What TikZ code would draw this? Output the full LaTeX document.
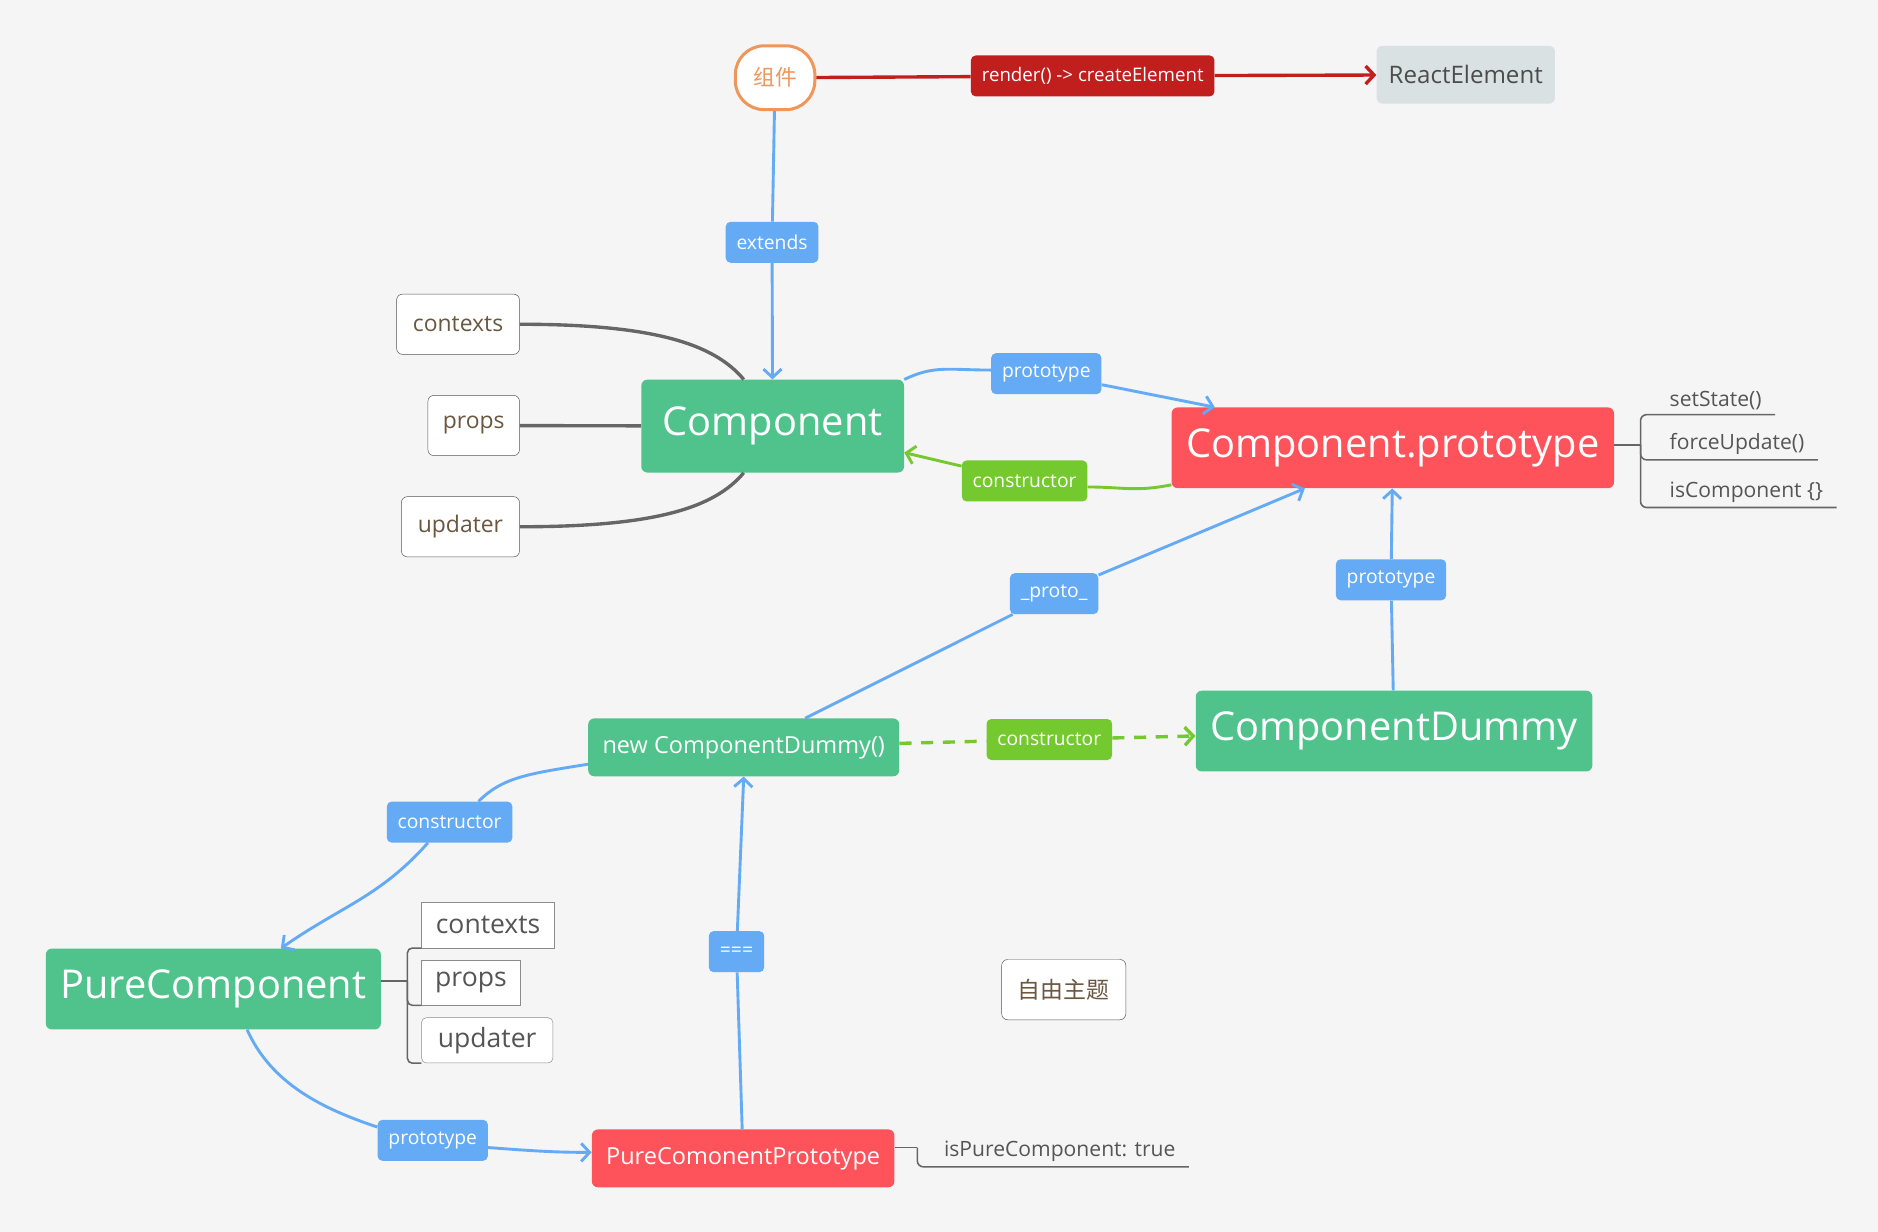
\documentclass[tikz,border=0pt]{standalone}
\usepackage{fontspec}
\setmainfont{Open Sans}
\newfontfamily\cjk{Noto Sans CJK SC}
\usetikzlibrary{arrows.meta}
\definecolor{bgc}{HTML}{F5F5F5}
\definecolor{cgreen}{HTML}{50C38C}
\definecolor{cred}{HTML}{FF535C}
\definecolor{cdark}{HTML}{C11E1E}
\definecolor{cblue}{HTML}{64AAF5}
\definecolor{clime}{HTML}{74C92E}
\definecolor{cgray}{HTML}{DAE1E2}
\definecolor{cbrown}{HTML}{6B5640}
\definecolor{corange}{HTML}{F0965A}
\definecolor{cline}{HTML}{666666}
\definecolor{ctext}{HTML}{555555}
\begin{document}
\begin{tikzpicture}[x=1pt, y=-1pt,
  mainnode/.style={rounded corners=5pt, inner sep=0pt, text=white, font=\fontsize{33}{36}\selectfont},
  midnode/.style={rounded corners=5pt, inner sep=0pt, text=white, font=\fontsize{19.5}{22}\selectfont},
  lbl/.style={rounded corners=4pt, inner xsep=9pt, inner ysep=0pt, minimum height=34pt, text=white, font=\fontsize{16}{18}\selectfont},
  leaf/.style={draw=ctext, fill=white, rounded corners=5pt, inner sep=0pt, minimum height=50pt, text=cbrown, font=\fontsize{19}{22}\selectfont},
  subitem/.style={anchor=south west, inner xsep=11pt, inner ysep=4pt, text=ctext, font=\fontsize{17.5}{20}\selectfont},
  leafbox/.style={anchor=south west, draw=black!45, fill=white, inner sep=0pt, minimum height=37.5pt, text=ctext, font=\fontsize{22}{24}\selectfont},
  tip/.style={-{Straight Barb[length=7pt,width=15pt]}},
  bline/.style={draw=cblue, line width=2.4pt},
  barrow/.style={bline, tip},
  gline/.style={draw=cline, line width=2.8pt},
  brline/.style={draw=cline, line width=1.3pt},
  ]
  \fill[bgc] (0,0) rectangle (1558,1022);
  \useasboundingbox (0,0) rectangle (1558,1022);

  \node[draw=corange, line width=2.5pt, fill=white, rounded corners=24pt, minimum width=66pt, minimum height=53pt, inner sep=0pt, text=corange, font={\cjk\fontsize{18}{20}\selectfont}] (zujian) at (643,64.5) {组件};
  \node[lbl, fill=cdark, font=\fontsize{15.5}{18}\selectfont] (render) at (906.5,63) {render() -> createElement};
  \node[fill=cgray, rounded corners=5pt, minimum width=148pt, minimum height=48pt, inner sep=0pt, text=black!70, font=\fontsize{20}{22}\selectfont] (react) at (1216,62) {ReactElement};
  \node[lbl, fill=cblue] (extends) at (640.5,201) {extends};
  \node[mainnode, fill=cgreen, minimum width=218pt, minimum height=77pt] (comp) at (641,353.5) {Component};
  \node[leaf, minimum width=102pt] (ctx) at (380,269) {contexts};
  \node[leaf, minimum width=76pt] (props) at (393,353) {props};
  \node[leaf, minimum width=98pt] (upd) at (382,437) {updater};
  \node[lbl, fill=cblue] (protoA) at (868,310) {prototype};
  \node[mainnode, fill=cred, minimum width=367pt, minimum height=67pt] (cproto) at (1155.5,371.5) {Component.prototype};
  \node[lbl, fill=clime] (ctorA) at (850,399) {constructor};
  \coordinate (brkA) at (1361,369);
  \node[subitem] (setstate) at (1374,344) {setState()};
  \node[subitem] (forceupd) at (1374,381.5) {forceUpdate()};
  \node[subitem] (iscomp) at (1374,421) {isComponent \{\}};
  \node[lbl, fill=cblue] (protoB) at (874.5,492.5) {\_proto\_};
  \node[lbl, fill=cblue] (protoC) at (1154,481) {prototype};
  \node[mainnode, fill=cgreen, minimum width=329pt, minimum height=67pt] (cdummy) at (1156.5,606.5) {ComponentDummy};
  \node[midnode, fill=cgreen, minimum width=258pt, minimum height=48pt] (newdummy) at (617,620) {new ComponentDummy()};
  \node[lbl, fill=clime] (ctorB) at (870.5,613.5) {constructor};
  \node[lbl, fill=cblue] (ctorC) at (373,682) {constructor};
  \node[mainnode, fill=cgreen, minimum width=278pt, minimum height=67pt] (pcomp) at (177,820.5) {PureComponent};
  \coordinate (brkB) at (338,814);
  \node[leafbox, minimum width=110.5pt] (pctx) at (349.5,786.5) {contexts};
  \node[leafbox, minimum width=82pt] (pprops) at (349.5,834) {props};
  \node[leafbox, minimum width=109pt, rounded corners=4pt] (pupd) at (349.5,882) {updater};
  \node[lbl, fill=cblue, minimum width=46pt] (eq) at (611,789.5) {===};
  \node[leaf, minimum width=103pt, font={\cjk\fontsize{19}{22}\selectfont}] (topic) at (882.5,821) {自由主题};
  \node[lbl, fill=cblue] (protoD) at (359,946) {prototype};
  \node[midnode, fill=cred, minimum width=251pt, minimum height=48pt] (pcproto) at (616.5,961) {PureComonentPrototype};
  \coordinate (brkC) at (761,952);
  \node[subitem] (ispure) at (772,968) {isPureComponent: true};

  \draw[cdark, line width=2.8pt] (zujian) -- (render);
  \draw[cdark, line width=2.8pt, tip] (render) -- (react);
  \draw[bline] (zujian) -- (extends);
  \draw[barrow] (extends) -- (comp);
  \draw[gline] (ctx.east) .. controls +(110,0) and +(-25,-30) .. ([xshift=-24pt]comp.north);
  \draw[gline] (props) -- (comp);
  \draw[gline] (upd.east) .. controls +(110,0) and +(-25,30) .. ([xshift=-24pt]comp.south);
  \draw[bline] (comp.north east) .. controls +(25,-12) and +(-35,0) .. ([yshift=3pt]protoA.west);
  \draw[barrow] (protoA) -- ([xshift=36pt]cproto.north west);
  \draw[clime, line width=2.4pt] ([yshift=3pt]cproto.south west) .. controls +(-30,6) and +(30,0) .. ([yshift=-5pt]ctorA.east);
  \draw[clime, line width=2.4pt, tip] (ctorA) -- ([yshift=-22pt]comp.east);
  \draw[brline] (cproto.east |- brkA) -- (brkA);
  \draw[brline, rounded corners=5pt] (setstate.south east) -- (setstate.south west -| brkA) -- (iscomp.south west -| brkA) -- (iscomp.south east);
  \draw[brline, rounded corners=5pt] (brkA) |- (forceupd.south east);
  \draw[bline] ([xshift=51pt]newdummy.north) -- (protoB);
  \draw[barrow] (protoB) -- ([xshift=-73pt]cproto.south);
  \draw[bline] (cdummy) -- (protoC);
  \draw[barrow] (protoC) -- (cproto);
  \draw[clime, line width=2.8pt, dash pattern=on 10pt off 8pt] (newdummy) -- (ctorB);
  \draw[clime, line width=2.8pt, dash pattern=on 10pt off 8pt, tip] (ctorB) -- (cdummy);
  \draw[bline] ([yshift=-14pt]newdummy.west) .. controls +(-50,8) and +(20,-20) .. ([xshift=24pt]ctorC.north);
  \draw[barrow] ([xshift=-18pt]ctorC.south) .. controls +(-40,45) and +(50,-35) .. ([xshift=56pt]pcomp.north);
  \draw[brline] (pcomp.east |- brkB) -- (brkB);
  \draw[brline, rounded corners=4pt] (pctx.south west) -- (pctx.south west -| brkB) -- (pupd.south west -| brkB) -- (pupd.south west);
  \draw[brline, rounded corners=4pt] (brkB) |- (pprops.south west);
  \draw[bline] ([xshift=28pt]pcomp.south) .. controls +(20,45) and +(-45,-15) .. ([yshift=11pt]protoD.west);
  \draw[barrow] ([yshift=-6pt]protoD.east) .. controls +(40,3) and +(-30,0) .. ([yshift=5pt]pcproto.west);
  \draw[bline] (pcproto) -- (eq);
  \draw[barrow] (eq) -- (newdummy.south);
  \draw[brline] (pcproto.east |- brkC) -- (brkC);
  \draw[brline, rounded corners=5pt] (brkC) |- (ispure.south east);
\end{tikzpicture}
\end{document}
